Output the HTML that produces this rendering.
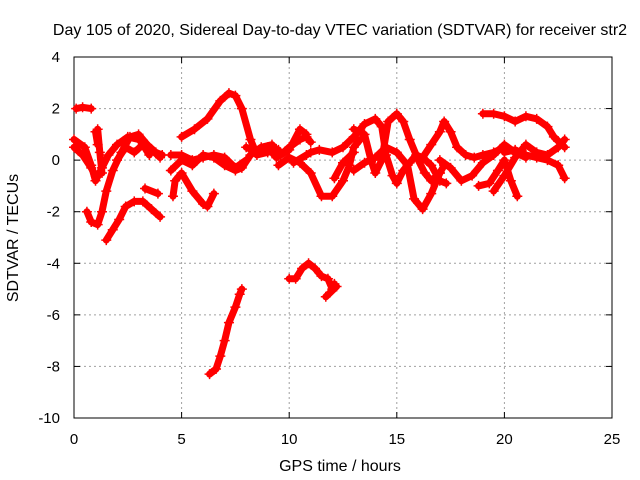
<!DOCTYPE html>
<html><head><meta charset="utf-8"><style>
body{margin:0;background:#fff}
svg{display:block;font-family:"Liberation Sans",sans-serif;font-size:15px}
</style></head><body>
<svg id="chart" width="640" height="480">
<text x="340" y="35" text-anchor="middle" font-size="16">Day 105 of 2020, Sidereal Day-to-day VTEC variation (SDTVAR) for receiver str2</text>
<text transform="translate(18,238) rotate(-90)" text-anchor="middle" font-size="16">SDTVAR / TECUs</text>
<text x="340" y="471" text-anchor="middle" font-size="16">GPS time / hours</text>
<g id="grid"></g>
<g id="axes"></g>
<g id="series"></g>
</svg>
<script>
const xTicks=[0,5,10,15,20,25];
const yTicks=[4,2,0,-2,-4,-6,-8,-10];
const tracks=[
[[0.1,2.0],[0.4,2.05],[0.8,2.0]],
[[0,0.8],[0.5,0.5],[0.8,-0.2],[1.0,-0.8],[1.3,-0.3],[1.6,0.2],[2,0.6],[2.5,0.9],[3,0.8],[3.5,0.5],[4,0.1]],
[[0,0.5],[0.4,0.2],[0.8,-0.3],[1,-0.6]],
[[0.6,-2],[0.8,-2.4],[1.1,-2.5],[1.3,-2.0],[1.5,-1.2],[1.8,-0.4],[2.2,0.3],[2.6,0.9],[3,1.0],[3.4,0.6],[3.8,0.3],[4.1,0.2]],
[[1.1,1.2],[1.2,0.3],[1.3,-0.5]],
[[1.5,-3.1],[1.8,-2.7],[2.1,-2.3],[2.4,-1.8],[2.8,-1.6],[3.2,-1.6],[3.6,-1.9],[4,-2.2]],
[[2,0],[2.4,0.5],[2.8,0.3],[3.2,0.6],[3.5,0.2]],
[[3.3,-1.1],[3.9,-1.3]],
[[4.6,-1.4],[4.7,-0.8],[5,-0.5],[5.5,-1.2],[6,-1.7],[6.2,-1.8],[6.5,-1.3]],
[[5,0.9],[5.6,1.2],[6.2,1.6],[6.8,2.3],[7.2,2.6],[7.5,2.5],[7.8,2.0],[8.2,0.8],[8.5,0.2],[9,0.3],[9.5,0.4]],
[[4.5,-0.4],[5,0],[5.5,-0.2],[6,0.2],[6.5,0.1],[7,-0.2],[7.5,-0.4],[7.8,-0.3],[8.2,0.2],[8.7,0.5],[9.2,0.6],[9.6,0.2],[10,0.5],[10.5,0.8],[10.8,0.9],[11,0.7]],
[[4.5,0.2],[5,0.2],[5.5,0],[6,0.1],[6.5,0.2],[7,0.1],[7.5,-0.3],[8,0]],
[[8,0.5],[8.5,0.3],[9,0.5],[9.4,0.1],[10,0.4],[10.5,1.2],[10.8,1.0]],
[[9.5,-0.2],[10,0.1],[10.5,-0.1],[11,-0.5],[11.5,-1.4],[12,-1.4],[12.5,-0.8],[12.8,-0.2],[13,0.5],[13.3,0.8]],
[[10.2,-0.1],[10.8,0.2],[11,0.3],[11.4,0.4],[12,0.3],[12.5,0.5],[13,0.9],[13.5,1.4],[14,1.6],[14.3,1.3],[14.5,0.2],[14.8,-0.6],[15,-0.9],[15.3,-0.4],[15.6,-0.1],[15.9,0.2],[16.2,0.1],[16.6,-0.2],[17,-0.8],[17.3,-0.9]],
[[12.1,-0.7],[12.5,-0.1],[13,0.3]],
[[13,1.2],[13.5,1.0],[13.8,0],[14,-0.5],[14.3,0],[14.6,1.5],[15,1.8],[15.3,1.5],[15.6,0.8],[16,0],[16.3,-0.5],[16.6,-0.8],[17,-0.5]],
[[13,-0.4],[13.5,-0.1],[14,0.1],[14.5,0.5],[15,0.3],[15.5,-0.2],[15.8,-1.5],[16.2,-1.9],[16.6,-1.3],[17,-0.5],[17.2,-0.2]],
[[16.2,0.1],[16.6,0.6],[17,1.1],[17.2,1.5],[17.5,1.1],[17.8,0.5],[18.2,0.2],[18.6,0.1],[19,0.2],[19.5,0.3],[20,0.5],[20.5,0.3],[21,0.1]],
[[17,0],[17.5,-0.3],[18,-0.8],[18.5,-0.6],[19,-0.1],[19.5,0.2],[20,0.6],[20.5,0.3]],
[[19,1.8],[19.5,1.8],[20,1.7],[20.5,1.5],[21,1.7],[21.5,1.6],[22,1.3],[22.3,0.9],[22.8,0.5]],
[[18.8,-1.0],[19.3,-0.9],[19.7,-0.4],[20,0],[20.3,-0.8],[20.6,-1.4]],
[[19.5,-1.2],[20,-0.6],[20.5,0.1],[21,0.6],[21.5,0.3],[22,0.2],[22.5,0.5],[22.8,0.8]],
[[20,0.3],[20.5,0.4],[21,0.2],[21.5,0.1],[22,0],[22.5,-0.2],[22.8,-0.7]],
[[10,-4.6],[10.3,-4.6],[10.6,-4.2],[10.9,-4.0],[11.2,-4.2],[11.5,-4.5],[11.8,-4.6],[12,-5.0],[12.1,-4.8]],
[[11.7,-5.3],[12.2,-4.9]],
[[6.3,-8.3],[6.6,-8.1],[6.8,-7.6],[7.0,-7.0],[7.2,-6.3],[7.5,-5.7],[7.7,-5.2],[7.8,-5.0]],
[[1.0,1.1],[1.1,0.6]]
];
const L=74,R=612,T=57,B=418;
const X=v=>L+(v-0)/25*(R-L);
const Y=v=>T+(4-v)/14*(B-T);
const NS='http://www.w3.org/2000/svg';
function mk(t,a,p){const e=document.createElementNS(NS,t);for(const k in a)e.setAttribute(k,a[k]);p.appendChild(e);return e;}
const grid=document.getElementById('grid'),axes=document.getElementById('axes'),ser=document.getElementById('series');
xTicks.forEach(t=>{
 if(t>0&&t<25){const g=mk('line',{x1:X(t),x2:X(t),y1:T,y2:B,stroke:'#a0a0a0','stroke-dasharray':'2,3'},grid);
 }
 mk('line',{x1:X(t),x2:X(t),y1:B,y2:B-6,stroke:'#000'},axes);
 mk('line',{x1:X(t),x2:X(t),y1:T,y2:T+6,stroke:'#000'},axes);
 const tx=mk('text',{x:X(t),y:B+26,'text-anchor':'middle'},axes);tx.textContent=t;
 
});
yTicks.forEach(t=>{
 if(t<4&&t>-10){const g=mk('line',{x1:L,x2:R,y1:Y(t),y2:Y(t),stroke:'#a0a0a0','stroke-dasharray':'2,3'},grid);
 }
 mk('line',{x1:L,x2:L+6,y1:Y(t),y2:Y(t),stroke:'#000'},axes);
 mk('line',{x1:R,x2:R-6,y1:Y(t),y2:Y(t),stroke:'#000'},axes);
 const tx=mk('text',{x:L-14,y:Y(t)+5,'text-anchor':'end'},axes);tx.textContent=t;
 
});
mk('rect',{x:L,y:T,width:R-L,height:B-T,fill:'none',stroke:'#000'},axes);
tracks.forEach(tr=>{
 const pl=mk('polyline',{points:tr.map(p=>X(p[0])+','+Y(p[1])).join(' '),fill:'none',stroke:'#ff0000','stroke-width':7,'stroke-linejoin':'round','stroke-linecap':'round'},ser);
 
 tr.forEach(p=>{
  const x=X(p[0]),y=Y(p[1]);
  const m=mk('path',{d:`M${x-5},${y}H${x+5}M${x},${y-5}V${y+5}`,stroke:'#ff0000','stroke-width':1.5},ser);
  
 });
});
</script>
</body></html>
